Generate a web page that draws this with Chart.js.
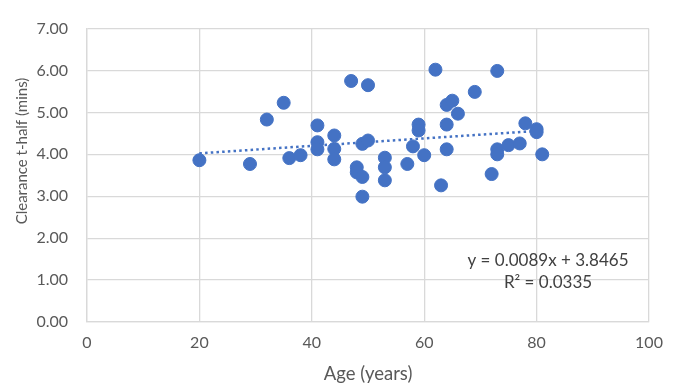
<!DOCTYPE html>
<html>
<head>
<meta charset="utf-8">
<script src="https://cdn.jsdelivr.net/npm/chart.js@4.4.1/dist/chart.umd.min.js"></script>
<style>
  html, body { margin: 0; padding: 0; background: #fff; }
  #wrap { width: 675px; height: 389px; position: relative; }
</style>
</head>
<body>
<div id="wrap"><canvas id="ageChart" width="675" height="389"></canvas></div>
<script>
// Age (years) of each subject and the clearance half-life
const ages = [20, 29, 32, 35, 36, 38, 41, 41, 41, 44, 44, 44, 47, 50, 48, 48, 49, 49, 49, 50,
              53, 53, 53, 57, 58, 59, 59, 60, 62, 63, 64, 65, 64, 64, 66, 69, 72, 73, 73, 73,
              75, 77, 78, 80, 80, 81];
const clearance = [3.86, 3.77, 4.83, 5.23, 3.91, 3.98, 4.69, 4.29, 4.12, 4.45, 4.13, 3.88, 5.75, 5.65, 3.69, 3.57, 3.46, 2.99, 4.25, 4.33,
                   3.92, 3.69, 3.38, 3.77, 4.19, 4.71, 4.57, 3.98, 6.02, 3.26, 5.18, 5.28, 4.71, 4.12, 4.97, 5.49, 3.53, 5.99, 4.12, 4.00,
                   4.22, 4.26, 4.74, 4.60, 4.53, 4.00];

// linear trendline as printed on the chart
const trendSlope = 0.0089;
const trendIntercept = 3.8465;
const trendRange = [20, 81];
const equationLines = ['y = 0.0089x + 3.8465', 'R² = 0.0335'];

const xTicks = [0, 20, 40, 60, 80, 100];
const yTicks = [0, 1, 2, 3, 4, 5, 6, 7];

const BLUE = '#4472C4';
const GRID = '#d9d9d9';
const TEXT = '#595959';
const FONT = 'Lato, "Open Sans", sans-serif';

const points = ages.map((a, i) => ({ x: a, y: clearance[i] }));
const trend = trendRange.map(a => ({ x: a, y: trendSlope * a + trendIntercept }));

// draws the y title and the trendline label like Excel places them
const extraText = {
    id: 'extraText',
    afterDraw(chart) {
        const c = chart.ctx;
        c.save();
        c.fillStyle = TEXT;
        c.font = '15px ' + FONT;
        c.textAlign = 'center';
        c.textBaseline = 'middle';
        c.translate(22, 151);
        c.rotate(-Math.PI / 2);
        c.fillText('Clearance t-half (mins)', 0, 0);
        c.restore();

        c.save();
        c.fillStyle = '#404040';
        c.font = '17px ' + FONT;
        c.textAlign = 'center';
        c.textBaseline = 'middle';
        c.fillText(equationLines[0], 548, 261);
        c.fillText(equationLines[1], 548, 283);
        c.restore();
    }
};

new Chart(document.getElementById('ageChart'), {
    type: 'scatter',
    data: {
        datasets: [
            {
                data: points,
                backgroundColor: BLUE,
                borderColor: BLUE,
                pointRadius: 6.5,
                pointHoverRadius: 6.5,
                order: 1
            },
            {
                type: 'line',
                data: trend,
                borderColor: BLUE,
                borderWidth: 2.5,
                borderDash: [2.5, 3.2],
                pointRadius: 0,
                fill: false,
                order: 2
            }
        ]
    },
    options: {
        responsive: false,
        animation: false,
        devicePixelRatio: 1,
        layout: { padding: { left: 0, right: 26, top: 21, bottom: 0 } },
        plugins: {
            legend: { display: false },
            tooltip: { enabled: false }
        },
        scales: {
            x: {
                type: 'linear',
                min: 0,
                max: 100,
                afterBuildTicks: s => { s.ticks = xTicks.map(v => ({ value: v })); },
                afterFit: s => { s.height = 67; },
                grid: { color: GRID, lineWidth: 1.3, drawTicks: false },
                border: { color: GRID, width: 1.3 },
                ticks: { color: TEXT, font: { family: FONT, size: 16 }, padding: 11 },
                title: { display: true, text: 'Age (years)', color: TEXT, font: { family: FONT, size: 18.5 }, padding: { top: 5 } }
            },
            y: {
                min: 0,
                max: 7,
                afterBuildTicks: s => { s.ticks = yTicks.map(v => ({ value: v })); },
                afterFit: s => { s.width = 87; },
                grid: { color: GRID, lineWidth: 1.3, drawTicks: false },
                border: { color: GRID, width: 1.3 },
                ticks: { color: TEXT, font: { family: FONT, size: 16 }, padding: 19, callback: v => v.toFixed(2) }
            }
        }
    },
    plugins: [extraText]
});
</script>
</body>
</html>
